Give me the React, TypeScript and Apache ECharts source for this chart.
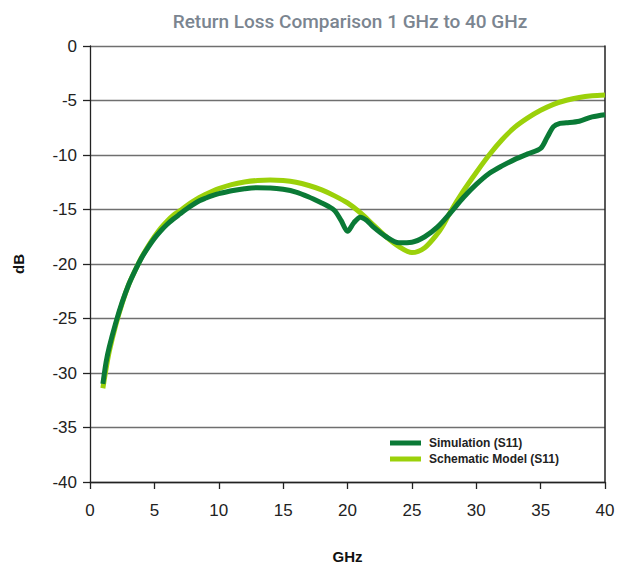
import React, { useEffect, useRef } from "react";
import * as echarts from "echarts";

const TITLE = "Return Loss Comparison 1 GHz to 40 GHz";
const X_TICKS = [0, 5, 10, 15, 20, 25, 30, 35, 40];

const simFreq = [1, 1.25, 1.5, 2, 2.5, 3, 3.5, 4, 4.5, 5, 5.5, 6, 6.5, 7, 7.5, 8, 8.5, 9, 9.5, 10, 11, 12, 13, 14, 15, 16, 17, 18, 18.5, 19, 19.5, 20, 20.5, 21, 21.5, 22, 23, 24, 25, 26, 27, 28, 29, 30, 31, 32, 33, 34, 35, 35.5, 36, 36.5, 37, 38, 39, 40];
const simValues = [-31.0, -29.0, -27.6, -25.4, -23.5, -21.9, -20.6, -19.45, -18.5, -17.65, -16.95, -16.35, -15.85, -15.4, -14.95, -14.55, -14.2, -13.95, -13.72, -13.55, -13.28, -13.1, -13.0, -13.02, -13.15, -13.4, -13.85, -14.4, -14.7, -15.1, -16.0, -17.0, -16.2, -15.7, -16.0, -16.6, -17.5, -18.05, -18.0, -17.5, -16.6, -15.3, -13.9, -12.7, -11.7, -11.0, -10.4, -9.9, -9.4, -8.4, -7.4, -7.1, -7.05, -6.9, -6.5, -6.3];

const schFreq = [1, 1.25, 1.5, 2, 2.5, 3, 3.5, 4, 4.5, 5, 5.5, 6, 6.5, 7, 7.5, 8, 8.5, 9, 9.5, 10, 11, 12, 13, 14, 15, 16, 17, 18, 19, 20, 21, 22, 23, 24, 25, 26, 27, 27.5, 28, 29, 30, 31, 32, 33, 34, 35, 36, 37, 38, 39, 40];
const schValues = [-31.4, -29.6, -28.0, -25.6, -23.6, -21.9, -20.6, -19.4, -18.4, -17.5, -16.7, -16.05, -15.5, -15.1, -14.65, -14.25, -13.9, -13.6, -13.32, -13.08, -12.72, -12.48, -12.34, -12.3, -12.35, -12.5, -12.8, -13.2, -13.75, -14.4, -15.3, -16.4, -17.5, -18.4, -18.95, -18.5, -17.2, -16.3, -15.2, -13.3, -11.6, -10.0, -8.6, -7.45, -6.6, -5.9, -5.35, -4.98, -4.72, -4.57, -4.5];

const SIM_NAME = "Simulation (S11)";
const SCH_NAME = "Schematic Model (S11)";

const pairs = (xs: number[], ys: number[]) => xs.map((x, i) => [x, ys[i]]);

export default function App() {
  const ref = useRef<HTMLDivElement>(null);
  useEffect(() => {
    if (!ref.current) return;
    const chart = echarts.init(ref.current, null, { renderer: "svg" });
    const font = "Liberation Sans";
    chart.setOption({
      animation: false,
      backgroundColor: "#ffffff",
      title: {
        text: TITLE,
        left: 345,
        textAlign: "center",
        top: 7,
        textStyle: { fontFamily: "Roboto", fontSize: 19, fontWeight: 500, color: "#7b8590" },
      },
      legend: {
        orient: "vertical",
        left: 385,
        top: 432,
        itemWidth: 31,
        itemHeight: 5,
        itemGap: 4,
        icon: "rect",
        data: [SIM_NAME, SCH_NAME],
        textStyle: { fontFamily: font, fontSize: 12, fontWeight: "bold", color: "#222", padding: [0, 0, 0, 3] },
      },
      grid: { left: 90, right: 21, top: 46, bottom: 82, containLabel: false, outerBoundsMode: "none" },
      xAxis: {
        type: "value",
        min: 0,
        max: 40,
        interval: 5,
        name: "GHz",
        nameLocation: "middle",
        nameGap: 67,
        nameTextStyle: { fontFamily: font, fontSize: 15, fontWeight: "bold", color: "#111" },
        axisLine: { show: true, onZero: false, lineStyle: { color: "#222", width: 1.3 } },
        axisTick: { show: true, length: 7, lineStyle: { color: "#222", width: 1.3 } },
        axisLabel: {
          fontFamily: font,
          fontSize: 17,
          color: "#222",
          margin: 20,
          formatter: (v: number) => (X_TICKS.includes(v) ? String(v) : ""),
        },
        splitLine: { show: false },
      },
      yAxis: [
        {
          type: "value",
          min: -40,
          max: 0,
          interval: 5,
          name: "dB",
          nameLocation: "middle",
          nameGap: 64,
          nameTextStyle: { fontFamily: font, fontSize: 15, fontWeight: "bold", color: "#111" },
          axisLine: { show: true, onZero: false, lineStyle: { color: "#222", width: 1.3 } },
          axisTick: { show: true, length: 7, lineStyle: { color: "#222", width: 1.3 } },
          axisLabel: { fontFamily: font, fontSize: 17, color: "#222", margin: 13 },
          splitLine: { show: true, lineStyle: { color: "#6f6f6f", width: 1.3 } },
        },
        {
          type: "value",
          min: -40,
          max: 0,
          interval: 5,
          position: "right",
          axisLine: { show: true, onZero: false, lineStyle: { color: "#222", width: 1.5 } },
          axisTick: { show: false },
          axisLabel: { show: false },
          splitLine: { show: false },
        },
      ],
      series: [
        {
          name: SCH_NAME,
          type: "line",
          data: pairs(schFreq, schValues),
          showSymbol: false,
          smooth: 0.3,
          lineStyle: { color: "#9bd10a", width: 5 },
          itemStyle: { color: "#9bd10a" },
        },
        {
          name: SIM_NAME,
          type: "line",
          data: pairs(simFreq, simValues),
          showSymbol: false,
          smooth: 0.3,
          lineStyle: { color: "#0a7a36", width: 5 },
          itemStyle: { color: "#0a7a36" },
        },
      ],
    });
    return () => chart.dispose();
  }, []);
  return <div ref={ref} style={{ width: 626, height: 564, position: "absolute", left: 0, top: 0 }} />;
}
